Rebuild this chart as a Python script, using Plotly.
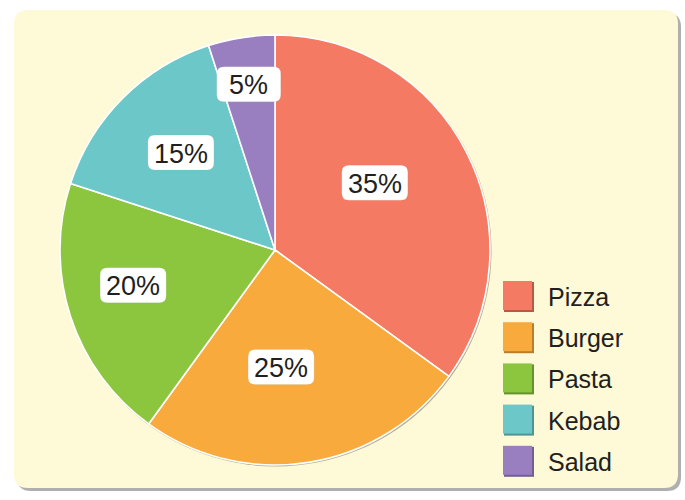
import math
import plotly.graph_objects as go

# ---- data ----
categories = ["Pizza", "Burger", "Pasta", "Kebab", "Salad"]
values = [35, 25, 20, 15, 5]
value_labels = ["35%", "25%", "20%", "15%", "5%"]
colors = ["#F47A63", "#F9AA3C", "#8CC63F", "#6CC8C8", "#9A7FC0"]
edge_colors = ["#B45A48", "#B97E2C", "#66922E", "#4E9494", "#71608E"]

# ---- layout constants (pixels) ----
W, H = 685, 500
CX, CY, R = 275, 250, 215
label_r = [0.56, 0.545, 0.68, 0.63, 0.78]
label_dang = [-7, 6, 4, 1, 0]

def px(x):
    return x / W

def py(y):
    return 1 - y / H

def rrect(x0, y0, x1, y1, r):
    p = f"M {px(x0 + r)},{py(y0)} L {px(x1 - r)},{py(y0)} "
    p += f"Q {px(x1)},{py(y0)} {px(x1)},{py(y0 + r)} "
    p += f"L {px(x1)},{py(y1 - r)} Q {px(x1)},{py(y1)} {px(x1 - r)},{py(y1)} "
    p += f"L {px(x0 + r)},{py(y1)} Q {px(x0)},{py(y1)} {px(x0)},{py(y1 - r)} "
    p += f"L {px(x0)},{py(y0 + r)} Q {px(x0)},{py(y0)} {px(x0 + r)},{py(y0)} Z"
    return p

fig = go.Figure()
fig.add_trace(go.Pie(
    labels=categories,
    values=values,
    sort=False,
    direction="clockwise",
    rotation=0,
    marker=dict(colors=colors, line=dict(color="white", width=1.6)),
    textinfo="none",
    hoverinfo="label+percent",
    showlegend=False,
    domain=dict(x=[px(CX - R), px(CX + R)], y=[py(CY + R), py(CY - R)]),
))

shapes = []
# background panel shadow + panel
shapes.append(dict(type="path", path=rrect(17, 13, 681, 491, 14), xref="paper", yref="paper",
                   fillcolor="rgba(110,110,110,0.55)", line=dict(width=0), layer="below"))
shapes.append(dict(type="path", path=rrect(14, 10, 678, 488, 14), xref="paper", yref="paper",
                   fillcolor="#FEF9D6", line=dict(width=0), layer="below"))
# subtle pie edge shadow
shapes.append(dict(type="circle", xref="paper", yref="paper",
                   x0=px(CX - R + 0.5), x1=px(CX + R + 1.5), y0=py(CY + R + 1.5), y1=py(CY - R + 0.5),
                   fillcolor="rgba(90,80,60,0.45)", line=dict(width=0), layer="below"))

annotations = []
font = "Liberation Sans, Arial, Helvetica, sans-serif"
LFS = 27
total = sum(values)
cum = 0
for i, (v, lab) in enumerate(zip(values, value_labels)):
    mid = (cum + v / 2) / total * 360 + label_dang[i]
    cum += v
    a = math.radians(mid)
    r = label_r[i] * R
    lx = CX + r * math.sin(a)
    ly = CY - r * math.cos(a)
    tw = LFS * (0.556 * (len(lab) - 1) + 0.889)
    bw = max(tw + 12, 64)
    bh = 35
    shapes.append(dict(type="path", path=rrect(lx - bw / 2, ly - bh / 2, lx + bw / 2, ly + bh / 2, 7),
                       xref="paper", yref="paper", fillcolor="white",
                       line=dict(color="rgba(160,160,160,0.25)", width=0.6), layer="above"))
    annotations.append(dict(x=px(lx), y=py(ly + 1), xref="paper", yref="paper", text=lab,
                            showarrow=False, font=dict(family=font, size=LFS, color="#231F20"),
                            xanchor="center", yanchor="middle"))

# legend
LX0, LY0, LSTEP, SQ = 503, 296, 41.2, 30
for i, (c, ec, name) in enumerate(zip(colors, edge_colors, categories)):
    yc = LY0 + i * LSTEP
    shapes.append(dict(type="rect", x0=px(LX0 + 1), x1=px(LX0 + SQ + 1), y0=py(yc + SQ / 2 + 1), y1=py(yc - SQ / 2 + 1),
                       xref="paper", yref="paper", fillcolor=ec, line=dict(width=0), layer="above"))
    shapes.append(dict(type="rect", x0=px(LX0), x1=px(LX0 + SQ - 1), y0=py(yc + SQ / 2 - 1), y1=py(yc - SQ / 2),
                       xref="paper", yref="paper", fillcolor=c, line=dict(width=0), layer="above"))
    annotations.append(dict(x=px(546), y=py(yc + 1), xref="paper", yref="paper", text=name,
                            showarrow=False, font=dict(family=font, size=25, color="#231F20"),
                            xanchor="left", yanchor="middle"))

fig.update_layout(
    width=W, height=H,
    margin=dict(l=0, r=0, t=0, b=0),
    paper_bgcolor="white",
    plot_bgcolor="white",
    shapes=shapes,
    annotations=annotations,
    showlegend=False,
)

fig.write_html("out.html")
